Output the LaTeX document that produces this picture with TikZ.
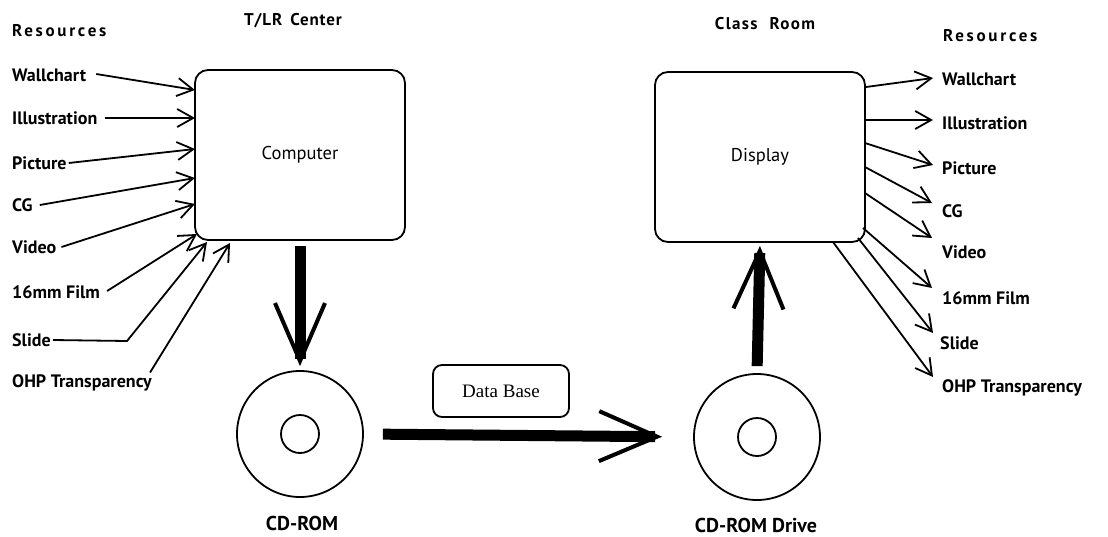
\documentclass[tikz,border=0pt]{standalone}
\usepackage{fontspec}
\setmainfont{PT Sans}
\newfontfamily\dbfont{Liberation Serif}
\usetikzlibrary{arrows.meta}
\begin{document}
\begin{tikzpicture}[x=1pt,y=-1pt,
  lbl/.style={font=\bfseries\fontsize{18}{20}\selectfont, inner sep=2pt},
  cdl/.style={font=\bfseries\fontsize{20}{22}\selectfont, inner sep=2pt},
  hdr/.style={font=\bfseries\fontsize{17}{19}\selectfont, inner sep=0pt},
  boxn/.style={draw, line width=1.8pt, rounded corners=13pt, minimum width=210pt, minimum height=170pt, font=\fontsize{18.5}{20}\selectfont, inner sep=0pt},
  feed/.style={line width=1.8pt, -{Straight Barb[length=16pt,width=18pt,line width=1.8pt]}},
  big/.style={line width=11pt, -{Straight Barb[length=58pt,width=50pt,line width=4pt]}},
  disk/.style={draw, circle, line width=1.8pt, inner sep=0pt},
]
\useasboundingbox (0,0) rectangle (1108,536);

% headers
\node[hdr, anchor=west] (resL) at (12,31) {\addfontfeature{LetterSpace=16}Resources};
\node[hdr] (tlr) at (293,21) {\addfontfeature{LetterSpace=5}T/LR\hspace{8pt}Center};
\node[hdr] (cls) at (765,24) {\addfontfeature{LetterSpace=8}Class\hspace{12pt}Room};
\node[hdr, anchor=west] (resR) at (943,36) {\addfontfeature{LetterSpace=16}Resources};

% boxes
\node[boxn] (comp) at (300,155) {Computer};
\node[boxn] (disp) at (760,157) {Display};

% disks
\node[disk, minimum size=126pt] (cd1) at (300,434) {};
\node[disk, minimum size=38pt] (cd1i) at (300,434) {};
\node[disk, minimum size=126pt] (cd2) at (757,437) {};
\node[disk, minimum size=38pt] (cd2i) at (757,437) {};
\node[cdl] (cd1l) at (302,523) {CD-ROM};
\node[cdl] (cd2l) at (756,525) {CD-ROM Drive};

% data base
\node[draw, line width=1.8pt, rounded corners=9pt, minimum width=136pt, minimum height=52pt, font=\dbfont\fontsize{19}{21}\selectfont] (db) at (501,391) {Data Base};

% big arrows
\draw[big, shorten <=5pt, shorten >=4pt] (comp.south) -- (cd1.north);
\draw[big, shorten <=19pt, shorten >=31pt] (cd1.east) -- (cd2.west);
\draw[big, shorten <=7pt, shorten >=3pt] (cd2.north) -- (disp.south);

% left labels
\node[lbl, anchor=west] (lw) at (10,75) {Wallchart};
\node[lbl, anchor=west] (li) at (10,118) {Illustration};
\node[lbl, anchor=west] (lp) at (10,163) {Picture};
\node[lbl, anchor=west] (lc) at (10,205) {CG};
\node[lbl, anchor=west] (lv) at (10,247) {Video};
\node[lbl, anchor=west] (lf) at (10,292) {16mm Film};
\node[lbl, anchor=west] (ls) at (10,340) {Slide};
\node[lbl, anchor=west] (lo) at (10,383) {OHP Transparency};

\coordinate (iw) at (195,90);
\coordinate (ii) at (195,118);
\coordinate (ip) at (195,149);
\coordinate (ic) at (195,178);
\coordinate (iv) at (195,204);
\coordinate (if) at (197,234);
\coordinate (is) at (207,242);
\coordinate (io) at (230,243);
\coordinate (sb) at (127,341);

\draw[feed] (lw.east) ++(8,-1) -- (iw);
\draw[feed] (li.east) ++(5,0) -- (ii);
\draw[feed] (lp.east) -- (ip);
\draw[feed] (lc.east) ++(5,0) -- (ic);
\draw[feed] (lv.east) ++(3,0) -- (iv);
\draw[feed] (lf.east) ++(5,-1) -- (if);
\draw[feed] (ls.east) -- (sb) -- (is);
\draw[feed] (lo.north east) ++(-4,0) -- (io);

% right labels
\node[lbl, anchor=west] (rw) at (940,79) {Wallchart};
\node[lbl, anchor=west] (ri) at (940,123) {Illustration};
\node[lbl, anchor=west] (rp) at (940,168) {Picture};
\node[lbl, anchor=west] (rc) at (940,211) {CG};
\node[lbl, anchor=west] (rv) at (940,252) {Video};
\node[lbl, anchor=west] (rf) at (940,298) {16mm Film};
\node[lbl, anchor=west] (rs) at (938,343) {Slide};
\node[lbl, anchor=west] (ro) at (940,388) {OHP Transparency};

\coordinate (ow) at (866,87);
\coordinate (oi) at (866,120);
\coordinate (op) at (865,143);
\coordinate (oc) at (865,167);
\coordinate (ov) at (865,193);
\coordinate (of) at (863,228);
\coordinate (os) at (858,238);
\coordinate (oo) at (833,242);

\coordinate (ew) at (933,78);
\coordinate (ei) at (933,120);
\coordinate (ep) at (933,165);
\coordinate (ec) at (932,203);
\coordinate (ev) at (932,238);
\coordinate (ef) at (932,288);
\coordinate (es) at (933,333);
\coordinate (eo) at (933,377);

\draw[feed] (ow) -- (ew);
\draw[feed] (oi) -- (ei);
\draw[feed] (op) -- (ep);
\draw[feed] (oc) -- (ec);
\draw[feed] (ov) -- (ev);
\draw[feed] (of) -- (ef);
\draw[feed] (os) -- (es);
\draw[feed] (oo) -- (eo);
\end{tikzpicture}
\end{document}
